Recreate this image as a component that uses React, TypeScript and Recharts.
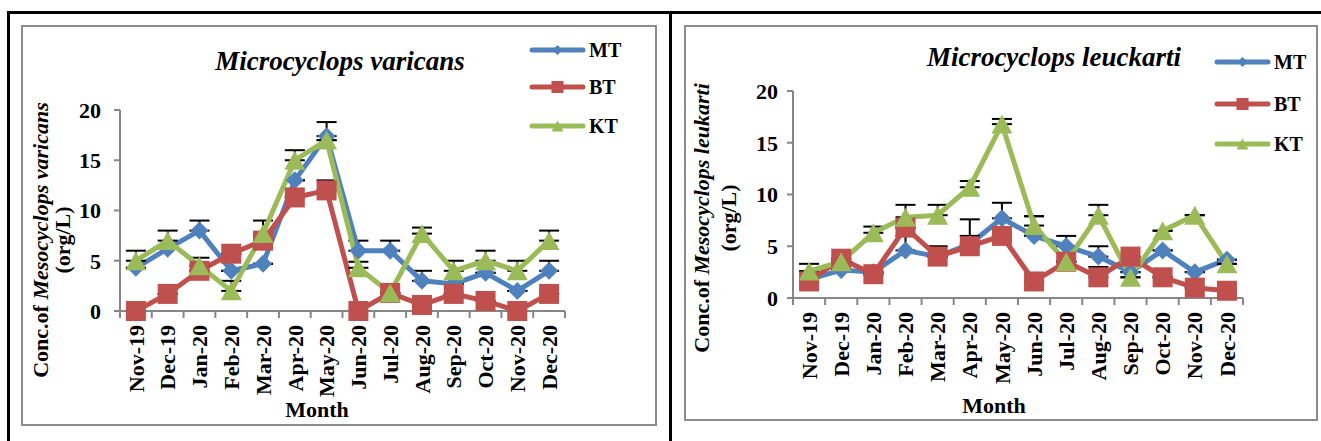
import React from 'react';
import { LineChart, Line, XAxis, YAxis, ErrorBar } from 'recharts';

const months = ['Nov-19', 'Dec-19', 'Jan-20', 'Feb-20', 'Mar-20', 'Apr-20', 'May-20', 'Jun-20', 'Jul-20', 'Aug-20', 'Sep-20', 'Oct-20', 'Nov-20', 'Dec-20'];
const seriesNames = ['MT', 'BT', 'KT'];
const yTicks = [0, 5, 10, 15, 20];

// Microcyclops varicans (org/L) and the upper error of each point
const varicansMT = [4.3, 6.2, 8.0, 4.0, 4.7, 13.0, 17.4, 6.0, 6.0, 3.0, 2.7, 3.8, 2.0, 4.0];
const varicansBT = [0, 1.7, 4.0, 5.7, 7.0, 11.3, 12.0, 0, 1.8, 0.6, 1.7, 1.0, 0, 1.7];
const varicansKT = [5.0, 7.0, 4.5, 2.0, 7.7, 15.0, 17.0, 4.3, 1.8, 7.7, 4.0, 5.0, 4.0, 7.0];
const varicansMTErr = [0, 0, 1, 0, 0, 0, 1.4, 1, 1, 1, 0, 0, 0, 1];
const varicansBTErr = [0, 0, 0, 0, 0, 0, 1, 0, 0, 0, 0, 0, 0, 0];
const varicansKTErr = [1, 1, 0.8, 1, 1.3, 1, 0, 0.6, 0, 0.6, 1, 1, 1, 1];

// Microcyclops leuckarti (org/L)
const leuckartiMT = [1.8, 2.7, 2.5, 4.6, 4.0, 5.2, 7.7, 6.0, 5.0, 4.0, 2.5, 4.6, 2.5, 3.7];
const leuckartiBT = [1.6, 3.8, 2.3, 6.8, 4.0, 5.0, 6.0, 1.6, 3.5, 2.0, 4.0, 2.0, 1.0, 0.7];
const leuckartiKT = [2.6, 3.5, 6.3, 7.8, 8.0, 10.7, 16.8, 7.0, 3.5, 8.0, 2.0, 6.5, 8.0, 3.3];
const leuckartiMTErr = [0, 0, 0, 1.4, 0, 2.4, 1.5, 1.9, 1, 1, 0, 0, 0, 0];
const leuckartiBTErr = [0, 0, 0, 0, 1, 1, 0, 0, 0, 1, 0, 0, 0, 0];
const leuckartiKTErr = [0.7, 0, 0.6, 1.2, 1, 0.6, 0.5, 0.9, 0, 1, 0, 0, 0, 0];

const COLORS = ['#4F81BD', '#C0504D', '#9BBB59'];
const SHAPES = ['diamond', 'square', 'triangle'];
const AXIS = '#868686';
const FONT = "'Liberation Serif', 'Times New Roman', serif";

function Marker({ shape, cx, cy, size, fill }: { shape: string; cx: number; cy: number; size: number; fill: string }) {
  const s = size / 2;
  if (shape === 'diamond') {
    return <polygon points={`${cx},${cy - s} ${cx + s},${cy} ${cx},${cy + s} ${cx - s},${cy}`} fill={fill} />;
  }
  if (shape === 'square') {
    return <rect x={cx - s} y={cy - s} width={size} height={size} fill={fill} />;
  }
  const h = size * 0.9;
  return <polygon points={`${cx},${cy - h / 2} ${cx + s},${cy + h / 2} ${cx - s},${cy + h / 2}`} fill={fill} />;
}

const MARKER_SIZE = [18, 20, 21];

function MonthTick(props: any) {
  const { x, y, payload, index, band, count } = props;
  return (
    <g>
      <line x1={x - band / 2} x2={x - band / 2} y1={y} y2={y + 7} stroke={AXIS} strokeWidth={2} />
      {index === count - 1 && <line x1={x + band / 2} x2={x + band / 2} y1={y} y2={y + 7} stroke={AXIS} strokeWidth={2} />}
      <text
        transform={`translate(${x},${y + 14}) rotate(-90)`}
        textAnchor="end"
        dy="0.35em"
        fontFamily={FONT}
        fontWeight="bold"
        fontSize={22}
        fill="#000"
      >
        {payload.value}
      </text>
    </g>
  );
}

type Layout = {
  left: number; top: number; width: number; height: number;
  plotLeft: number; plotTop: number; plotRight: number; plotBottom: number;
  tickMargin: number;
  titleX: number; titleY: number;
  legendX: number; legendRows: number[];
  yTitleX: number[]; yTitleY: number;
  monthX: number; monthY: number;
};

type PanelProps = {
  title: string;
  species: string;
  values: number[][];
  errors: number[][];
  layout: Layout;
};

function Panel({ title, species, values, errors, layout: L }: PanelProps) {
  const data = months.map((m, i) => ({
    month: m,
    MT: values[0][i], BT: values[1][i], KT: values[2][i],
    MTErr: [0, errors[0][i]], BTErr: [0, errors[1][i]], KTErr: [0, errors[2][i]],
  }));
  const band = (L.plotRight - L.plotLeft) / months.length;

  return (
    <div style={{ position: 'absolute', left: L.left, top: L.top, width: L.width, height: L.height }}>
      <div style={{ position: 'absolute', inset: 0, border: '2px solid #8c8c8c', boxSizing: 'border-box' }} />
      <div style={{ position: 'absolute', left: 0, top: 0 }}>
        <LineChart
          width={L.width}
          height={L.height}
          data={data}
          margin={{ top: L.plotTop, right: L.width - L.plotRight, bottom: 0, left: 0 }}
        >
          <XAxis
            dataKey="month"
            scale="band"
            height={L.height - L.plotBottom}
            interval={0}
            axisLine={{ stroke: AXIS, strokeWidth: 2 }}
            tickLine={false}
            tickSize={0}
            tickMargin={0}
            tick={(p: any) => <MonthTick {...p} band={band} count={months.length} />}
          />
          <YAxis
            width={L.plotLeft}
            domain={[0, 20]}
            ticks={yTicks}
            interval={0}
            axisLine={{ stroke: AXIS, strokeWidth: 2 }}
            tickLine={{ stroke: AXIS, strokeWidth: 2 }}
            tickSize={6}
            tickMargin={L.tickMargin}
            tick={{ fontFamily: FONT, fontWeight: 'bold', fontSize: 22, fill: '#000' }}
          />
          {seriesNames.map((name, si) => (
            <Line
              key={name}
              dataKey={name}
              stroke={COLORS[si]}
              strokeWidth={5}
              strokeLinejoin="round"
              strokeLinecap="round"
              isAnimationActive={false}
              dot={(p: any) => (
                <Marker key={`${name}-${p.index}`} shape={SHAPES[si]} cx={p.cx} cy={p.cy} size={MARKER_SIZE[si]} fill={COLORS[si]} />
              )}
              activeDot={false}
            >
              <ErrorBar dataKey={`${name}Err`} direction="y" width={10} stroke="#000" strokeWidth={2} isAnimationActive={false} />
            </Line>
          ))}
        </LineChart>
      </div>
      <svg width={L.width} height={L.height} style={{ position: 'absolute', left: 0, top: 0, pointerEvents: 'none' }}>
        <text x={L.titleX} y={L.titleY} textAnchor="middle" fontFamily={FONT} fontWeight="bold" fontStyle="italic" fontSize={27}>
          {title}
        </text>
        {seriesNames.map((name, si) => {
          const y = L.legendRows[si];
          return (
            <g key={name}>
              <line x1={L.legendX} x2={L.legendX + 51} y1={y} y2={y} stroke={COLORS[si]} strokeWidth={5} strokeLinecap="round" />
              <Marker shape={SHAPES[si]} cx={L.legendX + 25.5} cy={y} size={[10, 12, 12][si]} fill={COLORS[si]} />
              <text x={L.legendX + 57} y={y} dy="0.35em" fontFamily={FONT} fontWeight="bold" fontSize={20}>
                {name}
              </text>
            </g>
          );
        })}
        <text
          transform={`translate(${L.yTitleX[0]},${L.yTitleY}) rotate(-90)`}
          textAnchor="middle"
          dy="0.35em"
          fontFamily={FONT}
          fontWeight="bold"
          fontSize={22}
        >
          Conc.of <tspan fontStyle="italic">{species}</tspan>
        </text>
        <text
          transform={`translate(${L.yTitleX[1]},${L.yTitleY}) rotate(-90)`}
          textAnchor="middle"
          dy="0.35em"
          fontFamily={FONT}
          fontWeight="bold"
          fontSize={22}
        >
          (org/L)
        </text>
        <text x={L.monthX} y={L.monthY} dy="0.35em" textAnchor="middle" fontFamily={FONT} fontWeight="bold" fontSize={22}>
          Month
        </text>
      </svg>
    </div>
  );
}

const leftLayout: Layout = {
  left: 21, top: 25, width: 636, height: 401,
  plotLeft: 99, plotTop: 85, plotRight: 544, plotBottom: 286,
  tickMargin: 13,
  titleX: 319, titleY: 45,
  legendX: 511, legendRows: [25, 62, 101],
  yTitleX: [19, 41], yTitleY: 215,
  monthX: 296, monthY: 384,
};

const rightLayout: Layout = {
  left: 684, top: 25, width: 634, height: 396,
  plotLeft: 109, plotTop: 66, plotRight: 559, plotBottom: 273,
  tickMargin: 9,
  titleX: 370, titleY: 41,
  legendX: 533, legendRows: [37, 79, 119],
  yTitleX: [17, 44], yTitleY: 193,
  monthX: 310, monthY: 380,
};

export default function App() {
  return (
    <div style={{ position: 'absolute', left: 0, top: 0, width: 1321, height: 441, overflow: 'hidden', background: '#fff' }}>
      <div style={{ position: 'absolute', left: 7, top: 11, width: 1400, height: 500, border: '3px solid #000', boxSizing: 'border-box' }} />
      <div style={{ position: 'absolute', left: 669, top: 11, width: 3, height: 500, background: '#000' }} />
      <Panel
        title="Microcyclops varicans"
        species="Mesocyclops varicans"
        values={[varicansMT, varicansBT, varicansKT]}
        errors={[varicansMTErr, varicansBTErr, varicansKTErr]}
        layout={leftLayout}
      />
      <Panel
        title="Microcyclops leuckarti"
        species="Mesocyclops leukarti"
        values={[leuckartiMT, leuckartiBT, leuckartiKT]}
        errors={[leuckartiMTErr, leuckartiBTErr, leuckartiKTErr]}
        layout={rightLayout}
      />
    </div>
  );
}
